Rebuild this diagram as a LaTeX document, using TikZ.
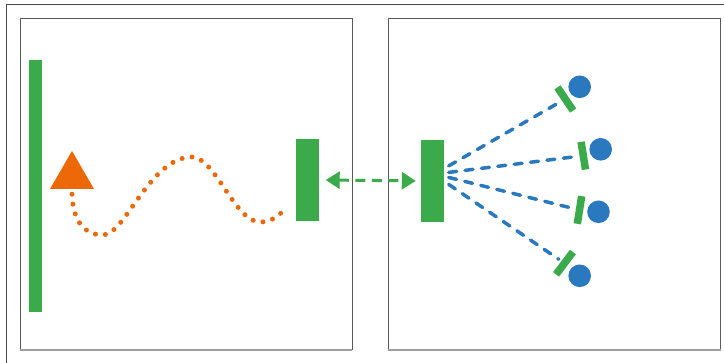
\documentclass[tikz,border=0pt]{standalone}
\usepackage{tikz}
\usetikzlibrary{calc, shapes, positioning, arrows.meta}

\definecolor{relaygreen}{RGB}{58,170,74}
\definecolor{waveorange}{RGB}{237,104,8}
\definecolor{beamblue}{RGB}{42,120,190}

\tikzset{
  antenna/.style={rectangle, fill=relaygreen, draw=none, inner sep=0pt},
  user/.style={circle, fill=beamblue, draw=none, inner sep=0pt, minimum size=22.6pt},
  beam/.style={draw=beamblue, line width=3.5pt, line cap=round, dash pattern=on 8pt off 8.5pt},
  bigtip/.tip={Triangle[length=14pt, width=17pt]}
}

\begin{document}
\begin{tikzpicture}[x=1pt, y=-1pt]
  \useasboundingbox (0,0) rectangle (724,363);
  % outer frame, runs off the page
  \draw[black!72, line width=1.2pt] (6.5,375) |- (735,4.5);
  % the two rooms
  \foreach \xa/\xb in {20/352, 388.3/720.7} {
      \draw[black!65, line width=1pt] (\xa,350) |- (\xb,18.3) -- (\xb,350);
      \draw[black!38, line width=1.6pt] (\xa,350) -- (\xb,350);
  }
  % left room
  \node[antenna, minimum width=13pt, minimum height=252pt] (wall) at (35.5,186) {};
  \node[regular polygon, regular polygon sides=3, fill=waveorange, inner sep=0pt,
        minimum size=50.8pt] (src) at (72,176.3) {};
  \node[antenna, minimum width=23pt, minimum height=82pt] (rx) at (307.5,180) {};
  \coordinate (wend) at (281,213);
  \draw[waveorange, line width=5pt, line cap=round, dash pattern=on 0pt off 10pt]
      ([yshift=-5pt]src.south) .. controls (73,222) and (85,235) .. (103,235)
      .. controls (125,235) and (150,157) .. (192,157)
      .. controls (215,157) and (235,222) .. (260,222)
      .. controls (268,222) and (275,219) .. (wend);
  % right room
  \node[antenna, minimum width=23pt, minimum height=82pt] (tx) at (432.5,180.9) {};
  \draw[relaygreen, line width=3pt, dash pattern=on 10pt off 6.5pt, bigtip-bigtip,
        shorten <=6.5pt, shorten >=5pt] (rx.east) -- (tx.west);
  \foreach \i/\dy/\px/\py/\rot/\ux/\uy in {1/15/565.3/99/34/579.7/86.8,
                                          2/8.5/583.3/155.7/9/600.7/149.3,
                                          3/3.5/579.5/210/-9/598.5/211.8,
                                          4/-3.5/564.5/263.2/-37/579.7/275.8} {
      \node[antenna, minimum width=7.5pt, minimum height=28pt, rotate=\rot] (p\i) at (\px,\py) {};
      \node[user] (u\i) at (\ux,\uy) {};
      \draw[beam, shorten >=3pt] ([xshift=4.5pt, yshift=\dy pt]tx.east) -- (p\i);
  }
\end{tikzpicture}
\end{document}
